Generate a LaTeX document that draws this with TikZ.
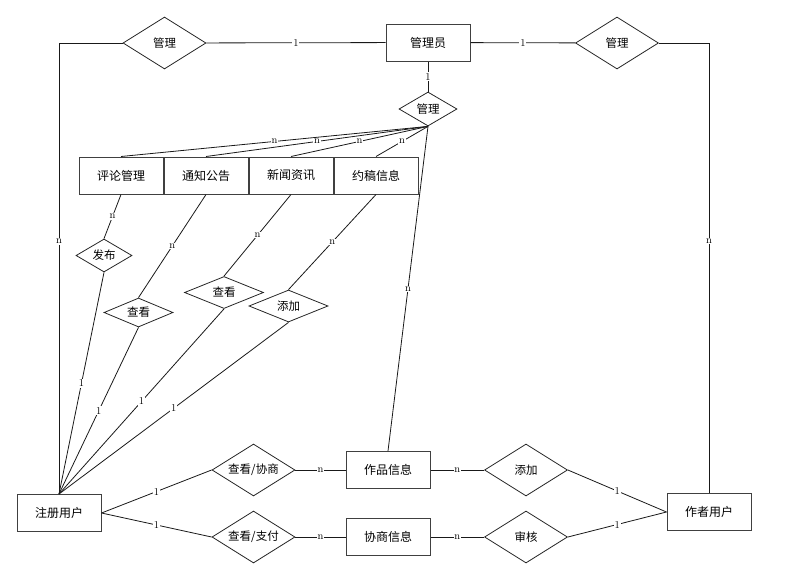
\documentclass[tikz,border=0pt]{standalone}
\usepackage{fontspec}
\newfontfamily\cjk{Noto Sans CJK SC}
\usetikzlibrary{positioning,shapes.geometric}

\begin{document}
\begin{tikzpicture}[
    x=1pt, y=-1pt,
    entity/.style={
        rectangle,
        draw=black!75,
        line width=1pt,
        minimum width=84pt,
        minimum height=37pt,
        inner sep=0pt,
        font=\cjk\fontsize{12}{14}\selectfont
    },
    relation/.style={
        diamond,
        aspect=1.6,
        draw=black!85,
        line width=0.8pt,
        inner sep=0pt,
        minimum width=83pt,
        minimum height=52pt,
        font=\cjk\fontsize{11.5}{13}\selectfont
    },
    link/.style={
        draw=black!90,
        line width=0.8pt
    },
    card/.style={
        fill=white,
        inner sep=0.8pt,
        font=\fontsize{10.5}{11}\selectfont
    }
]
\useasboundingbox (0,0) rectangle (785,579);

% Administrator and its relations
\node[entity] (admin) at (428,42.5) {管理员};
\node[relation] (mgrL) at (164.5,43) {管理};
\node[relation] (mgrR) at (617,43) {管理};
\node[relation, minimum width=58pt, minimum height=34pt] (mgrC) at (428,109) {管理};

% Managed information
\node[entity] (comment) at (121,175.5) {评论管理};
\node[entity, right=0pt of comment] (notice) {通知公告};
\node[entity, right=0pt of notice] (news) {新闻资讯};
\node[entity, right=0pt of news] (invite) {约稿信息};

% Relations of the registered user
\node[relation, minimum width=56pt, minimum height=33pt] (publish) at (104,255.5) {发布};
\node[relation, minimum width=69pt, minimum height=29pt] (viewA) at (138.5,312.5) {查看};
\node[relation, minimum width=79pt, minimum height=32pt] (viewB) at (224,292.5) {查看};
\node[relation, minimum width=79pt, minimum height=32pt] (addA) at (288.5,306) {添加};

% Users and works
\node[entity] (user) at (59,513) {注册用户};
\node[entity] (author) at (709,512) {作者用户};
\node[entity] (works) at (388,470) {作品信息};
\node[entity] (deal) at (388,537) {协商信息};
\node[relation] (viewDeal) at (253.5,470) {查看/协商};
\node[relation] (viewPay) at (253.5,537) {查看/支付};
\node[relation] (addB) at (526,470) {添加};
\node[relation] (audit) at (526,537) {审核};

% Top connectors
\draw[link] (mgrL) -- node[card] {1} (admin);
\draw[link] (admin) -- node[card] {1} (mgrR);
\draw[link] (admin) -- node[card] {1} (mgrC);
\draw[link] (mgrL.west) -| node[card, pos=0.72] {n} (user.north);
\draw[link] (mgrR.east) -| node[card, pos=0.72] {n} (author.north);

\foreach \b in {comment,notice,news,invite}
    \draw[link] (mgrC.south) -- node[card] {n} (\b.north);
\draw[link] (mgrC.south) -- node[card] {n} (works.north);

% Info to user relations
\draw[link] (comment.south) -- node[card] {n} (publish.north);
\draw[link] (notice.south) -- node[card] {n} (viewA.north);
\draw[link] (news.south) -- node[card] {n} (viewB.north);
\draw[link] (invite.south) -- node[card] {n} (addA.north);
\foreach \r in {publish,viewA,viewB,addA}
    \draw[link] (\r.south) -- node[card] {1} (user.north);

% Bottom connectors
\draw[link] (user.east) -- node[card] {1} (viewDeal.west);
\draw[link] (user.east) -- node[card] {1} (viewPay.west);
\draw[link] (viewDeal) -- node[card] {n} (works);
\draw[link] (viewPay) -- node[card] {n} (deal);
\draw[link] (works) -- node[card] {n} (addB);
\draw[link] (deal) -- node[card] {n} (audit);
\draw[link] (addB.east) -- node[card] {1} (author.west);
\draw[link] (audit.east) -- node[card] {1} (author.west);

\end{tikzpicture}
\end{document}
